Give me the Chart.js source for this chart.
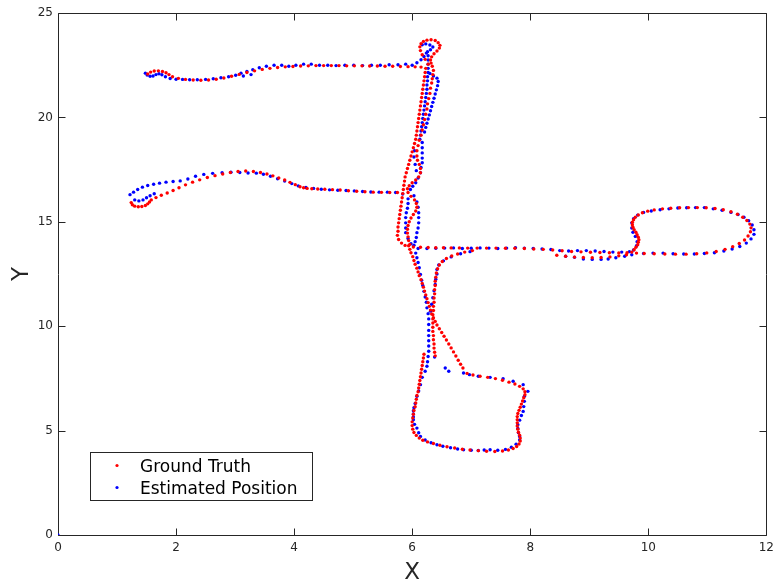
<!DOCTYPE html>
<html><head><meta charset="utf-8">
<script src="https://cdn.jsdelivr.net/npm/chart.js@4/dist/chart.umd.min.js"></script>
<style>html,body{margin:0;padding:0;background:#fff;}canvas{display:block;}</style>
</head><body>
<canvas id="c" width="780" height="581"></canvas>
<script>
// ---------- Ground truth (red) ----------
const gtTopLine = [[1.52,22.08],[1.57,22.17],[1.63,22.22],[1.70,22.23],[1.77,22.20],[1.83,22.14],[1.88,22.05],[1.94,21.95],[2.04,21.87],[2.16,21.82],[2.29,21.79],[2.42,21.78],[2.55,21.79],[2.68,21.83],[2.81,21.89],[2.94,21.97],[3.07,22.06],[3.20,22.15],[3.33,22.23],[3.46,22.30],[3.59,22.35],[3.72,22.39],[3.85,22.42],[3.98,22.44],[4.11,22.46],[4.24,22.47],[4.37,22.48],[4.50,22.48],[4.63,22.48],[4.76,22.48],[4.89,22.47],[5.02,22.47],[5.15,22.47],[5.28,22.46],[5.41,22.46],[5.54,22.45],[5.67,22.45],[5.80,22.44],[5.93,22.43],[6.05,22.42],[6.15,22.41]];
const gtTopLoop = [[6.27,22.55],[6.22,22.78],[6.17,23.0],[6.14,23.2],[6.13,23.38],[6.15,23.53],[6.19,23.64],[6.25,23.7],[6.32,23.72],[6.39,23.68],[6.44,23.58],[6.47,23.45],[6.46,23.32],[6.42,23.18],[6.37,23.05],[6.33,22.9],[6.31,22.75],[6.32,22.6],[6.34,22.45]];
const gtLeftLine = [[6.23,22.35],[6.22,22.15],[6.21,21.95],[6.20,21.75],[6.19,21.55],[6.18,21.35],[6.17,21.15],[6.16,20.95],[6.15,20.75],[6.14,20.55],[6.13,20.35],[6.12,20.15],[6.11,19.95],[6.10,19.75],[6.09,19.55],[6.08,19.35],[6.07,19.15],[6.06,18.95],[6.04,18.75],[6.02,18.55],[6.00,18.35],[5.98,18.15],[5.96,17.95],[5.94,17.75],[5.92,17.55],[5.90,17.35],[5.88,17.15],[5.87,16.95],[5.86,16.75],[5.85,16.55],[5.84,16.35],[5.83,16.15],[5.82,15.95],[5.81,15.75],[5.80,15.55],[5.79,15.35],[5.78,15.15],[5.77,14.95],[5.76,14.75],[5.76,14.55],[5.75,14.35],[5.77,14.15],[5.82,13.98],[5.88,13.87]];
const gtInnerLine = [[6.36,22.25],[6.35,22.05],[6.34,21.85],[6.33,21.65],[6.31,21.40],[6.30,21.15],[6.28,20.90],[6.26,20.65],[6.25,20.40],[6.23,20.15],[6.21,19.90],[6.19,19.65],[6.17,19.40],[6.15,19.15],[6.12,18.90],[6.10,18.65],[6.08,18.40],[6.08,18.15],[6.09,17.95],[6.12,17.75],[6.14,17.55],[6.14,17.35],[6.11,17.15],[6.06,17.00],[6.00,16.87],[5.95,16.73],[5.92,16.58],[5.93,16.40],[5.98,16.22],[6.04,16.05],[6.07,15.88],[6.08,15.70],[6.06,15.52],[6.02,15.35],[5.98,15.18],[5.95,15.00],[5.93,14.82],[5.92,14.64],[5.92,14.46],[5.93,14.28],[5.94,14.10],[5.96,13.92]];
const gtMidLine = [[1.24,15.92],[1.26,15.82],[1.30,15.75],[1.36,15.72],[1.42,15.73],[1.48,15.78],[1.52,15.86],[1.55,15.95],[1.58,16.05],[1.66,16.16],[1.75,16.27],[1.85,16.38],[1.95,16.50],[2.05,16.63],[2.16,16.77],[2.28,16.90],[2.40,17.01],[2.53,17.12],[2.66,17.21],[2.79,17.29],[2.92,17.36],[3.05,17.41],[3.18,17.43],[3.31,17.41],[3.43,17.36],[3.54,17.29],[3.64,17.20],[3.74,17.10],[3.84,17.00],[3.93,16.89],[4.02,16.78],[4.10,16.68],[4.16,16.63],[4.22,16.60],[4.30,16.58],[4.40,16.57],[4.52,16.56],[4.65,16.54],[4.78,16.52],[4.92,16.49],[5.06,16.46],[5.20,16.44],[5.34,16.42],[5.48,16.41],[5.62,16.40],[5.75,16.40]];
const gtLowerLine = [[6.02,13.79],[6.14,13.78],[6.27,13.77],[6.40,13.76],[6.53,13.76],[6.66,13.75],[6.80,13.75],[6.94,13.74],[7.10,13.74],[7.26,13.74],[7.42,13.74],[7.58,13.73],[7.74,13.73],[7.90,13.72],[8.06,13.70],[8.22,13.68],[8.38,13.65],[8.54,13.61],[8.70,13.58],[8.86,13.56],[9.02,13.54],[9.18,13.53],[9.34,13.52],[9.50,13.51],[9.64,13.52],[8.45,13.40],[8.60,13.35],[8.75,13.31],[8.90,13.29],[9.05,13.28],[9.20,13.29],[9.35,13.32],[9.50,13.37],[9.63,13.42]];
const gtCurve = [[6.41,12.55],[6.43,12.75],[6.46,12.93],[6.51,13.10],[6.58,13.24],[6.67,13.36],[6.77,13.46],[6.89,13.55],[7.02,13.62]];
const gtLoop = [[9.72,13.55],[9.76,13.66],[9.79,13.78],[9.82,13.90],[9.83,14.02],[9.84,14.14],[9.83,14.26],[9.81,14.38],[9.79,14.50],[9.76,14.62],[9.74,14.74],[9.73,14.86],[9.73,14.98],[9.75,15.10],[9.78,15.22],[9.83,15.33],[9.90,15.43],[9.99,15.51],[10.10,15.57],[10.24,15.62],[10.38,15.65],[10.53,15.67],[10.68,15.68],[10.83,15.68],[10.98,15.67],[11.13,15.64],[11.27,15.58],[11.40,15.48],[11.51,15.36],[11.60,15.22],[11.67,15.06],[11.72,14.89],[11.74,14.71],[11.73,14.52],[11.69,14.32],[11.63,14.13],[11.54,13.96],[11.43,13.81],[11.30,13.68],[11.15,13.58],[10.99,13.51],[10.82,13.47],[10.64,13.45],[10.46,13.45],[10.28,13.46],[10.10,13.47],[9.93,13.48],[9.80,13.50]];
const gtVertical = [[6.40,12.35],[6.39,12.15],[6.39,11.95],[6.38,11.75],[6.38,11.55],[6.37,11.35],[6.37,11.15],[6.36,10.95],[6.36,10.75],[6.35,10.55],[6.35,10.35],[6.35,10.15],[6.35,9.95],[6.35,9.75],[6.36,9.55],[6.36,9.35],[6.37,9.15],[6.37,8.95],[6.38,8.75],[6.39,8.58]];
const gtDiagonal = [[5.94,13.85],[5.96,13.68],[5.98,13.52],[6.01,13.33],[6.03,13.15],[6.05,12.97],[6.08,12.78],[6.10,12.60],[6.12,12.42],[6.15,12.23],[6.17,12.05],[6.19,11.87],[6.21,11.68],[6.23,11.50],[6.25,11.32],[6.27,11.13],[6.29,10.95],[6.31,10.77],[6.33,10.59],[6.36,10.41],[6.39,10.23],[6.42,10.06],[6.46,9.88],[6.50,9.70],[6.54,9.52],[6.58,9.34],[6.62,9.15],[6.66,8.96],[6.70,8.77],[6.74,8.57],[6.78,8.37],[6.82,8.18],[6.86,8.00]];
const gtBox = [[6.20,8.66],[6.19,8.48],[6.18,8.30],[6.17,8.12],[6.16,7.94],[6.15,7.76],[6.14,7.58],[6.13,7.40],[6.12,7.22],[6.11,7.04],[6.10,6.86],[6.08,6.68],[6.07,6.50],[6.06,6.32],[6.05,6.14],[6.03,5.96],[6.02,5.78],[6.01,5.60],[6.00,5.42],[6.00,5.24],[6.01,5.07],[6.03,4.91],[6.07,4.77],[6.12,4.64],[6.18,4.54],[6.26,4.46],[6.36,4.38],[6.47,4.30],[6.59,4.23],[6.72,4.17],[6.85,4.11],[6.98,4.07],[7.12,4.04],[7.26,4.01],[7.40,4.00],[7.53,4.02],[7.63,4.07],[7.71,4.14],[7.77,4.24],[7.81,4.36],[7.83,4.50],[7.83,4.64],[7.82,4.78],[7.80,4.92],[7.79,5.07],[7.78,5.22],[7.78,5.37],[7.78,5.52],[7.78,5.67],[7.79,5.82],[7.81,5.97],[7.83,6.12],[7.85,6.27],[7.87,6.42],[7.89,6.57],[7.91,6.72],[7.91,6.86],[7.88,7.00],[7.82,7.12],[7.74,7.23],[7.64,7.32],[7.53,7.41],[7.41,7.49],[7.28,7.55],[7.15,7.60],[7.03,7.66],[6.93,7.74]];

// ---------- Estimated position (blue) ----------
const estOrigin = [[0,0]];
const estTopLine = [[1.48,22.12],[1.51,22.03],[1.56,21.97],[1.61,21.98],[1.66,22.05],[1.71,22.09],[1.76,22.04],[1.82,21.95],[1.90,21.86],[2.00,21.83],[2.11,21.82],[2.23,21.80],[2.36,21.80],[2.50,21.82],[2.63,21.85],[2.76,21.90],[2.89,21.95],[3.01,22.02],[3.10,22.12],[3.14,21.98],[3.20,22.20],[3.27,22.05],[3.30,22.28],[3.41,22.38],[3.53,22.45],[3.66,22.50],[3.79,22.50],[3.91,22.45],[4.03,22.50],[4.16,22.55],[4.29,22.55],[4.43,22.50],[4.57,22.50],[4.71,22.48],[4.86,22.50],[5.01,22.50],[5.16,22.48],[5.31,22.50],[5.46,22.50],[5.61,22.52],[5.76,22.52],[5.89,22.55],[6.00,22.50],[6.08,22.62],[6.15,22.76],[6.20,22.92],[6.24,23.08]];
const estTopLoop = [[6.17,23.48],[6.23,23.52],[6.30,23.47],[6.35,23.37],[6.31,23.24]];
const estLeftLine = [[6.26,23.15],[6.27,22.95],[6.27,22.75],[6.27,22.55],[6.27,22.35],[6.27,22.15],[6.26,21.95],[6.26,21.75],[6.25,21.55],[6.25,21.35],[6.24,21.15],[6.23,20.95],[6.22,20.75],[6.21,20.55],[6.20,20.35],[6.19,20.15],[6.18,19.95],[6.17,19.75],[6.16,19.55],[6.15,19.35],[6.14,19.15],[6.13,18.95]];
const estRightLine = [[6.30,22.10],[6.36,21.98],[6.42,21.88],[6.44,21.72],[6.43,21.52],[6.41,21.32],[6.39,21.12],[6.37,20.92],[6.35,20.72],[6.33,20.52],[6.31,20.32],[6.29,20.12],[6.27,19.92],[6.25,19.72],[6.23,19.52],[6.21,19.30]];
const estMidVertical = [[6.17,18.80],[6.17,18.55],[6.17,18.30],[6.17,18.05],[6.17,17.83],[6.15,17.60],[6.14,17.35],[6.10,17.10],[6.06,16.87],[6.01,16.70],[5.97,16.55],[6.03,16.25],[6.08,15.95],[6.10,15.70],[6.11,15.43],[6.11,15.20],[6.11,14.95],[6.10,14.70],[6.08,14.48],[6.07,14.25],[6.05,14.05],[6.03,13.88],[6.04,18.40],[6.03,18.10],[6.05,17.75],[6.07,17.45],[5.93,16.10],[5.93,15.88],[5.92,15.65],[5.90,15.43],[5.89,15.20],[5.89,14.95],[5.89,14.70],[5.89,14.48],[5.93,14.20],[5.98,13.95]];
const estMidLine = [[1.22,16.30],[1.28,16.42],[1.35,16.55],[1.43,16.66],[1.52,16.74],[1.62,16.80],[1.72,16.85],[1.83,16.90],[1.95,16.93],[2.07,16.96],[2.20,17.05],[2.33,17.18],[2.47,17.27],[2.62,17.32],[2.78,17.35],[2.93,17.37],[3.08,17.36],[3.22,17.34],[3.36,17.33],[3.48,17.28],[3.60,17.18],[3.72,17.06],[3.84,16.95],[3.96,16.83],[4.07,16.72],[4.20,16.64],[4.33,16.60],[4.46,16.56],[4.60,16.53],[4.74,16.51],[4.88,16.50],[5.02,16.48],[5.16,16.45],[5.30,16.43],[5.44,16.42],[5.58,16.42],[5.72,16.40],[5.84,16.33],[1.30,16.05],[1.37,16.00],[1.44,16.05],[1.50,16.15],[1.56,16.25],[1.63,16.34]];
const estLowerLine = [[6.10,13.72],[6.25,13.72],[6.40,13.73],[6.55,13.74],[6.70,13.75],[6.85,13.72],[7.00,13.73],[7.15,13.75],[7.30,13.74],[7.45,13.72],[7.60,13.74],[7.75,13.76],[7.90,13.74],[8.05,13.72],[8.20,13.70],[8.35,13.67],[8.50,13.62],[8.65,13.60],[8.80,13.62],[8.95,13.62],[9.10,13.60],[9.25,13.58],[9.40,13.55],[9.55,13.55],[9.68,13.57],[8.60,13.35],[8.75,13.30],[8.90,13.22],[9.05,13.20],[9.20,13.20],[9.32,13.22],[9.45,13.28],[9.60,13.35],[9.72,13.42],[6.42,12.50],[6.42,12.72],[6.45,12.93],[6.53,13.13],[6.66,13.32],[6.82,13.47],[6.98,13.57]];
const estLoop = [[9.75,13.65],[9.80,13.85],[9.81,14.05],[9.78,14.30],[9.74,14.50],[9.72,14.70],[9.72,14.95],[9.75,15.15],[9.82,15.32],[9.92,15.45],[10.05,15.52],[10.20,15.58],[10.35,15.62],[10.50,15.66],[10.65,15.67],[10.80,15.68],[10.95,15.68],[11.10,15.62],[11.25,15.55],[11.40,15.45],[11.52,15.35],[11.62,15.22],[11.70,15.05],[11.76,14.85],[11.79,14.62],[11.79,14.40],[11.74,14.18],[11.66,13.98],[11.55,13.82],[11.42,13.70],[11.28,13.60],[11.12,13.52],[10.95,13.48],[10.78,13.46],[10.60,13.46],[10.42,13.47],[10.25,13.50],[10.08,13.50],[9.92,13.48]];
const estCenter = [[6.06,13.50],[6.08,13.28],[6.10,13.05],[6.12,12.80],[6.14,12.48],[6.16,12.20],[6.18,11.95],[6.20,11.67],[6.22,11.40],[6.24,11.15],[6.25,10.88],[6.27,10.60],[6.28,10.35],[6.28,10.08],[6.28,9.80],[6.28,9.55],[6.28,9.30],[6.28,9.05],[6.28,8.80],[6.27,8.55],[6.26,8.30],[6.25,8.08],[6.22,7.84],[6.40,12.25],[6.39,12.00],[6.37,11.70],[6.35,11.36],[6.33,11.05],[6.31,10.72],[6.38,8.52],[6.56,8.00],[6.62,7.84]];
const estBox = [[6.17,7.55],[6.14,7.20],[6.11,6.90],[6.08,6.64],[6.05,6.30],[6.03,6.10],[6.02,5.95],[6.02,5.80],[6.02,5.65],[6.02,5.52],[6.04,5.30],[6.08,5.12],[6.11,4.90],[6.14,4.72],[6.22,4.55],[6.32,4.42],[6.42,4.32],[6.52,4.25],[6.65,4.18],[6.77,4.12],[6.87,4.08],[7.00,4.06],[7.12,4.05],[7.22,4.07],[7.32,4.08],[7.45,4.06],[7.58,4.10],[7.68,4.20],[7.76,4.35],[7.82,4.55],[7.82,4.72],[7.80,4.90],[7.79,5.10],[7.79,5.28],[7.82,5.50],[7.85,5.72],[7.88,5.92],[7.89,6.15],[7.90,6.40],[7.90,6.64],[7.96,6.88],[7.88,7.20],[7.71,7.36],[7.54,7.48],[7.32,7.55],[7.12,7.60],[6.97,7.68],[6.87,7.76]];

// ---------- Axes / labels ----------
const xTickValues = [0,2,4,6,8,10,12];
const yTickValues = [0,5,10,15,20,25];
const xTitle = 'X';
const yTitle = 'Y';
const seriesNames = ['Ground Truth','Estimated Position'];
const seriesColors = ['#ff0000','#0000ff'];

const toPts = a => a.map(p => ({x:p[0], y:p[1]}));
const groundTruth = [].concat(gtTopLine, gtTopLoop, gtLeftLine, gtInnerLine, gtMidLine, gtLowerLine, gtCurve, gtLoop, gtVertical, gtDiagonal, gtBox);
const estimated = [].concat(estOrigin, estTopLine, estTopLoop, estLeftLine, estRightLine, estMidVertical, estMidLine, estLowerLine, estLoop, estCenter, estBox);

const axisColor = '#262626';
const FONT = '"DejaVu Sans", "Liberation Sans", sans-serif';

const framePlugin = {
  id: 'frame',
  beforeDatasetsDraw(chart) {
    const {ctx, chartArea: a, scales: {x, y}} = chart;
    ctx.save();
    ctx.strokeStyle = axisColor;
    ctx.lineWidth = 1;
    const L = Math.round(a.left) + 0.5, R = Math.round(a.right) + 0.5;
    const T = Math.round(a.top) + 0.5, B = Math.round(a.bottom) + 0.5;
    ctx.beginPath();
    ctx.rect(L, T, R - L, B - T);
    const tl = 7;
    xTickValues.forEach(v => {
      const px = Math.round(x.getPixelForValue(v)) + 0.5;
      ctx.moveTo(px, B); ctx.lineTo(px, B - tl);
      ctx.moveTo(px, T); ctx.lineTo(px, T + tl);
    });
    yTickValues.forEach(v => {
      const py = Math.round(y.getPixelForValue(v)) + 0.5;
      ctx.moveTo(L, py); ctx.lineTo(L + tl, py);
      ctx.moveTo(R, py); ctx.lineTo(R - tl, py);
    });
    ctx.stroke();
    ctx.restore();
  },
  afterDraw(chart) {
    const {ctx, chartArea: a} = chart;
    ctx.save();
    // axis titles
    ctx.fillStyle = axisColor;
    ctx.font = '23px ' + FONT;
    ctx.textAlign = 'center';
    ctx.textBaseline = 'alphabetic';
    ctx.fillText(xTitle, (a.left + a.right) / 2, 579);
    ctx.save();
    ctx.translate(28, (a.top + a.bottom) / 2);
    ctx.rotate(-Math.PI / 2);
    ctx.fillText(yTitle, 0, 0);
    ctx.restore();
    // legend box
    ctx.fillStyle = '#ffffff';
    ctx.fillRect(90.5, 452.5, 222, 48);
    ctx.strokeStyle = axisColor;
    ctx.lineWidth = 1;
    ctx.strokeRect(90.5, 452.5, 222, 48);
    ctx.font = '17px ' + FONT;
    ctx.textAlign = 'left';
    const rows = [472, 494];
    seriesNames.forEach((name, i) => {
      ctx.fillStyle = seriesColors[i];
      ctx.beginPath();
      ctx.arc(117, rows[i] - 6.5, 1.6, 0, Math.PI * 2);
      ctx.fill();
      ctx.fillStyle = '#000000';
      ctx.fillText(name, 140, rows[i]);
    });
    ctx.restore();
  }
};

new Chart(document.getElementById('c'), {
  type: 'scatter',
  data: {
    datasets: [
      {label: seriesNames[0], data: toPts(groundTruth), backgroundColor: seriesColors[0], borderWidth: 0, pointRadius: 1.7},
      {label: seriesNames[1], data: toPts(estimated), backgroundColor: seriesColors[1], borderWidth: 0, pointRadius: 1.7}
    ]
  },
  options: {
    responsive: false,
    animation: false,
    events: [],
    layout: {padding: {top: 13, right: 7, left: 0, bottom: 0}},
    plugins: {legend: {display: false}, tooltip: {enabled: false}},
    scales: {
      x: {
        type: 'linear', min: 0, max: 12,
        afterFit: s => { s.height = 46; },
        afterBuildTicks: s => { s.ticks = xTickValues.map(v => ({value: v})); },
        grid: {display: false, drawTicks: false},
        border: {display: false},
        ticks: {padding: 6, color: axisColor, font: {family: FONT, size: 12}, maxRotation: 0}
      },
      y: {
        type: 'linear', min: 0, max: 25,
        afterFit: s => { s.width = 58; },
        afterBuildTicks: s => { s.ticks = yTickValues.map(v => ({value: v})); },
        grid: {display: false, drawTicks: false},
        border: {display: false},
        ticks: {padding: 5, color: axisColor, font: {family: FONT, size: 12}}
      }
    }
  },
  plugins: [framePlugin]
});
</script>
</body></html>
